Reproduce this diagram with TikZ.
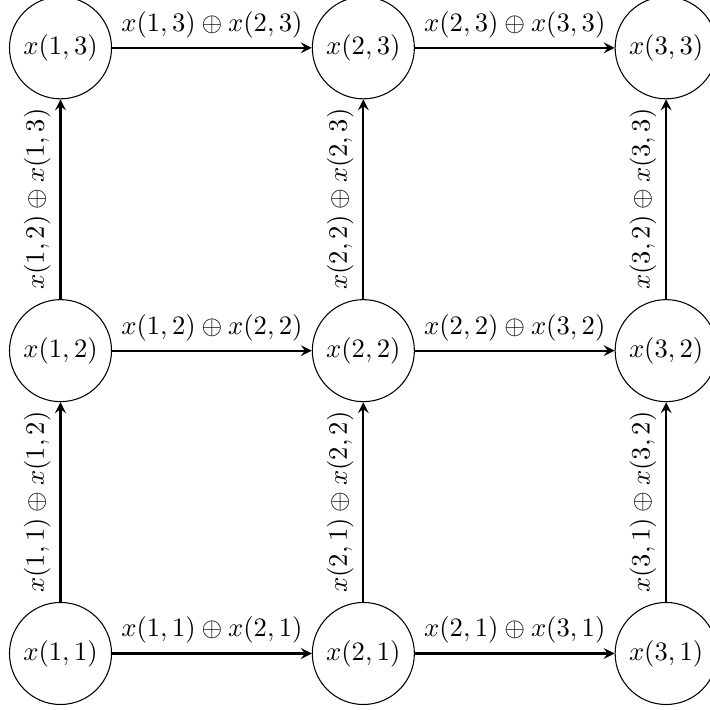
\documentclass[tikz,border=0pt]{standalone}
\begin{document}
\begin{tikzpicture}[
  vtx/.style={draw,circle,thin},
  edge/.style={-stealth,thick},
  lab/.style={midway,above,sloped}
]
\useasboundingbox (-22.74pt,-21.24pt) rectangle (243.8pt,245.6pt);
\foreach \i in {1,2,3}{
  \foreach \j in {1,2,3}{
    \node[vtx] (n\i\j) at ({(\i-1)*4cm},{(\j-1)*4cm}) {$x(\i,\j)$};
  }
}
\draw[edge] (n11) -- node[lab] {$x(1,1)\oplus x(2,1)$} (n21);
\draw[edge] (n21) -- node[lab] {$x(2,1)\oplus x(3,1)$} (n31);
\draw[edge] (n12) -- node[lab] {$x(1,2)\oplus x(2,2)$} (n22);
\draw[edge] (n22) -- node[lab] {$x(2,2)\oplus x(3,2)$} (n32);
\draw[edge] (n13) -- node[lab] {$x(1,3)\oplus x(2,3)$} (n23);
\draw[edge] (n23) -- node[lab] {$x(2,3)\oplus x(3,3)$} (n33);
\draw[edge] (n11) -- node[lab] {$x(1,1)\oplus x(1,2)$} (n12);
\draw[edge] (n12) -- node[lab] {$x(1,2)\oplus x(1,3)$} (n13);
\draw[edge] (n21) -- node[lab] {$x(2,1)\oplus x(2,2)$} (n22);
\draw[edge] (n22) -- node[lab] {$x(2,2)\oplus x(2,3)$} (n23);
\draw[edge] (n31) -- node[lab] {$x(3,1)\oplus x(3,2)$} (n32);
\draw[edge] (n32) -- node[lab] {$x(3,2)\oplus x(3,3)$} (n33);
\end{tikzpicture}
\end{document}
